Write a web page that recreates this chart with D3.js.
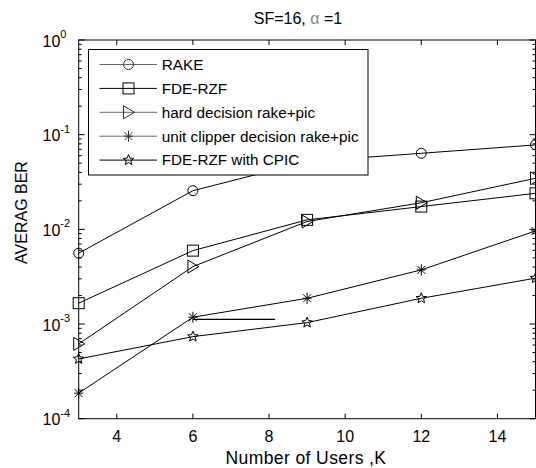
<!DOCTYPE html>
<html><head><meta charset="utf-8">
<script src="https://cdn.jsdelivr.net/npm/d3@7"></script>
<style>
html,body{margin:0;padding:0;background:#fff;overflow:hidden;}
text{font-family:Arial,"Liberation Sans",Helvetica,sans-serif;fill:#000;}
</style></head>
<body>
<svg id="c" width="536" height="468"></svg>
<script>
// ---- data ----
const users = [3, 6, 9, 12, 15];
const rake = [5.6e-3, 0.0256, 0.052, 0.0636, 0.078];
const fdeRzf = [1.66e-3, 5.96e-3, 0.0126, 0.0174, 0.024];
const hardPic = [6.17e-4, 4.04e-3, 0.0121, 0.0191, 0.0346];
const unitPic = [1.86e-4, 1.18e-3, 1.87e-3, 3.73e-3, 9.62e-3];
const cpic = [4.28e-4, 7.36e-4, 1.035e-3, 1.87e-3, 3.05e-3];
const strayX = [6, 8.16];
const strayY = [1.12e-3, 1.12e-3];
const seriesNames = ["RAKE", "FDE-RZF", "hard decision rake+pic", "unit clipper decision rake+pic", "FDE-RZF with CPIC"];
const xTicks = [4, 6, 8, 10, 12, 14];
const yTicks = [1e-4, 1e-3, 1e-2, 1e-1, 1];
const yExp = ["-4", "-3", "-2", "-1", "0"];

const series = [
  {name: seriesNames[0], vals: rake, marker: "circle", legColor: "#6a6a6a"},
  {name: seriesNames[1], vals: fdeRzf, marker: "square", legColor: "#000"},
  {name: seriesNames[2], vals: hardPic, marker: "triangle", legColor: "#6a6a6a"},
  {name: seriesNames[3], vals: unitPic, marker: "asterisk", legColor: "#6a6a6a"},
  {name: seriesNames[4], vals: cpic, marker: "star", legColor: "#000"}
];

const svg = d3.select("#c");
const L = 78.7, R = 535.5, T = 40, B = 418.7;
const x = d3.scaleLinear().domain([3, 15]).range([L, R]);
const y = d3.scaleLog().domain([1e-4, 1]).range([B, T]);

// frame
const g = svg.append("g");
g.append("rect").attr("x", L).attr("y", T).attr("width", R - L).attr("height", B - T)
  .attr("fill", "none").attr("stroke", "#000").attr("stroke-width", 1);

// x ticks (inward, bottom and top)
xTicks.forEach(t => {
  const px = x(t);
  g.append("line").attr("x1", px).attr("x2", px).attr("y1", B).attr("y2", B - 5).attr("stroke", "#000");
  g.append("line").attr("x1", px).attr("x2", px).attr("y1", T).attr("y2", T + 5).attr("stroke", "#000");
  g.append("text").attr("x", px).attr("y", 441.5).attr("text-anchor", "middle")
    .attr("font-size", 16).text(t);
});

// y ticks major + minor
const minor = [];
for (let e = -4; e < 0; e++) for (let m = 2; m <= 9; m++) minor.push(m * Math.pow(10, e));
minor.forEach(v => {
  const py = y(v);
  g.append("line").attr("x1", L).attr("x2", L + 3).attr("y1", py).attr("y2", py).attr("stroke", "#000");
  g.append("line").attr("x1", R).attr("x2", R - 3).attr("y1", py).attr("y2", py).attr("stroke", "#000");
});
yTicks.forEach((v, i) => {
  const py = y(v);
  g.append("line").attr("x1", L).attr("x2", L + 6).attr("y1", py).attr("y2", py).attr("stroke", "#000");
  g.append("line").attr("x1", R).attr("x2", R - 6).attr("y1", py).attr("y2", py).attr("stroke", "#000");
  const t = g.append("text").attr("x", 42.5).attr("y", py + 6.5).attr("font-size", 16);
  t.append("tspan").text("10");
  t.append("tspan").attr("dy", -8.5).attr("font-size", 11).text(yExp[i]);
});

// axis labels & title
svg.append("text").attr("x", 306).attr("y", 464).attr("text-anchor", "middle")
  .attr("font-size", 17.5).attr("letter-spacing", 0.4).text("Number of Users ,K");
svg.append("text").attr("transform", "translate(26.5,212.5) rotate(-90)").attr("text-anchor", "middle")
  .attr("font-size", 16).text("AVERAG BER");
const title = svg.append("text").attr("x", 298).attr("y", 23.5).attr("text-anchor", "middle").attr("font-size", 16);
title.append("tspan").text("SF=16, ");
title.append("tspan").style("fill", "#8a8a8a").text("α");
title.append("tspan").text(" =1");

// marker drawing
function drawMarker(sel, type, cx, cy, color) {
  const c = color || "#000";
  if (type === "circle") {
    sel.append("circle").attr("cx", cx).attr("cy", cy).attr("r", 5).attr("fill", "none").attr("stroke", c);
  } else if (type === "square") {
    sel.append("rect").attr("x", cx - 5.5).attr("y", cy - 5.5).attr("width", 11).attr("height", 11).attr("fill", "none").attr("stroke", c);
  } else if (type === "triangle") {
    sel.append("path").attr("d", `M${cx - 5},${cy - 6.5}L${cx + 6},${cy}L${cx - 5},${cy + 6.5}Z`).attr("fill", "none").attr("stroke", c);
  } else if (type === "asterisk") {
    const r = 5.5, d = 4;
    sel.append("path").attr("d", `M${cx},${cy - r}V${cy + r}M${cx - d},${cy - d}L${cx + d},${cy + d}M${cx - d},${cy + d}L${cx + d},${cy - d}M${cx - r + 1},${cy}H${cx + r - 1}`)
      .attr("fill", "none").attr("stroke", c);
  } else if (type === "star") {
    const pts = [];
    for (let k = 0; k < 10; k++) {
      const rr = k % 2 === 0 ? 5.5 : 2.4;
      const a = -Math.PI / 2 + k * Math.PI / 5;
      pts.push([cx + rr * Math.cos(a), cy + rr * Math.sin(a)]);
    }
    sel.append("path").attr("d", "M" + pts.map(p => p.join(",")).join("L") + "Z").attr("fill", "none").attr("stroke", c);
  }
}

// lines & markers
const line = d3.line().x(d => x(d[0])).y(d => y(d[1]));
const plot = svg.append("g");
series.forEach(s => {
  const pts = users.map((u, i) => [u, s.vals[i]]);
  plot.append("path").attr("d", line(pts)).attr("fill", "none").attr("stroke", "#000").attr("stroke-width", 1);
  pts.forEach(p => drawMarker(plot, s.marker, x(p[0]), y(p[1]), "#000"));
});
plot.append("path").attr("d", line(strayX.map((v, i) => [v, strayY[i]])))
  .attr("fill", "none").attr("stroke", "#000").attr("stroke-width", 1.3);

// legend
const lg = svg.append("g");
lg.append("rect").attr("x", 88.5).attr("y", 49.5).attr("width", 279.5).attr("height", 125.5)
  .attr("fill", "#fff").attr("stroke", "#000");
series.forEach((s, i) => {
  const ly = 64.5 + i * 23.9;
  lg.append("line").attr("x1", 99.5).attr("x2", 157).attr("y1", ly).attr("y2", ly).attr("stroke", s.legColor);
  drawMarker(lg, s.marker, 128.5, ly, s.legColor === "#000" ? "#000" : "#333");
  lg.append("text").attr("x", 161.7).attr("y", ly + 5.3).attr("font-size", 15.3).text(s.name);
});
</script>
</body></html>
